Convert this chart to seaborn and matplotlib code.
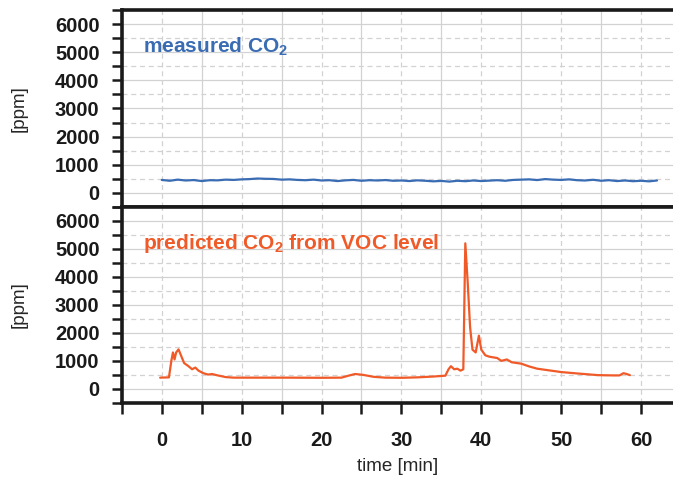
import numpy as np
import pandas as pd
import seaborn as sns
import matplotlib.pyplot as plt
from matplotlib.ticker import MultipleLocator, FuncFormatter

# measured CO2 (top panel)
m_time = list(range(0, 63))
m_ppm = [460, 430, 470, 440, 455, 420, 450, 445, 470, 460,
         480, 490, 510, 500, 495, 470, 480, 460, 450, 470,
         440, 450, 420, 445, 460, 430, 450, 440, 455, 430,
         440, 420, 445, 430, 410, 425, 400, 430, 415, 440,
         420, 435, 450, 430, 460, 470, 480, 455, 490, 470,
         460, 480, 450, 440, 465, 430, 450, 420, 440, 415,
         430, 410, 440]

# predicted CO2 from VOC level (bottom panel)
p_time = [-0.2, 0.9, 1.2, 1.4, 1.6, 1.8, 2.1, 2.4, 2.8, 3.3, 3.8, 4.2, 4.6,
          5.2, 5.8, 6.3, 7.0, 8.0, 9.0, 12, 16, 20, 22.5, 23.5, 24.2, 25.2,
          26.5, 28, 30, 32, 34, 35.5, 35.9, 36.2, 36.6, 37.0, 37.4, 37.75,
          38.0, 38.3, 38.6, 38.9, 39.3, 39.7, 40.0, 40.5, 41, 42, 42.5, 43.2,
          43.8, 45, 46, 47, 48, 50, 52, 54.6, 56.5, 57.3, 57.8, 58.2, 58.6]
p_ppm = [400, 410, 1000, 1300, 1050, 1300, 1410, 1200, 920, 820, 700, 760,
         650, 560, 510, 530, 480, 420, 400, 400, 400, 395, 400, 480, 530, 500,
         430, 400, 395, 410, 440, 470, 700, 810, 700, 720, 650, 700,
         5200, 3800, 2200, 1400, 1300, 1900, 1400, 1200, 1150, 1100, 1000, 1050,
         950, 900, 800, 720, 680, 600, 550, 490, 480, 480, 560, 530, 490]

blue = "#3a6cb4"
orange = "#f05a28"

sns.set_style("white")
plt.rcParams["font.family"] = ["Liberation Sans", "DejaVu Sans"]
plt.rcParams["mathtext.fontset"] = "custom"
plt.rcParams["mathtext.rm"] = "Liberation Sans:bold"

df_m = pd.DataFrame({"time": m_time, "ppm": m_ppm})
df_p = pd.DataFrame({"time": p_time, "ppm": p_ppm})

fig = plt.figure(figsize=(6.73, 4.79), dpi=100)
ax1 = fig.add_axes([0.181, 0.568, 0.819, 0.411])
ax2 = fig.add_axes([0.181, 0.159, 0.819, 0.409])

sns.lineplot(data=df_m, x="time", y="ppm", ax=ax1, color=blue, linewidth=1.6)
sns.lineplot(data=df_p, x="time", y="ppm", ax=ax2, color=orange, linewidth=1.6)


def style(ax, bottom_labels):
    ax.set_xlim(-5, 64)
    ax.set_ylim(-500, 6500)
    ax.xaxis.set_major_locator(MultipleLocator(10))
    ax.xaxis.set_minor_locator(MultipleLocator(5))
    ax.yaxis.set_major_locator(MultipleLocator(1000))
    ax.yaxis.set_minor_locator(MultipleLocator(500))
    ax.grid(True, which="major", axis="y", color="#d2d2d2", linewidth=0.9, linestyle="-")
    ax.grid(True, which="minor", axis="y", color="#d2d2d2", linewidth=0.9, linestyle=(0, (4, 3)))
    ax.grid(True, which="major", axis="x", color="#d2d2d2", linewidth=0.9, linestyle=(0, (4, 3)))
    ax.grid(True, which="minor", axis="x", color="#d2d2d2", linewidth=0.9, linestyle="-")
    ax.set_axisbelow(True)
    for side in ["left", "top", "bottom"]:
        ax.spines[side].set_visible(True)
        ax.spines[side].set_linewidth(2.6)
        ax.spines[side].set_color("#1a1a1a")
    ax.spines["right"].set_visible(False)
    ax.tick_params(axis="y", which="both", direction="out", length=7, width=1.8,
                   color="#1a1a1a", left=True, labelsize=14.5, pad=9)
    ax.yaxis.set_major_formatter(FuncFormatter(lambda v, p: f"{int(v)}"))
    ax.set_ylabel("[ppm]", fontsize=13.5, labelpad=20)
    if bottom_labels:
        ax.tick_params(axis="x", which="both", direction="out", length=8, width=1.8,
                       color="#1a1a1a", bottom=True, labelsize=14.5, pad=12)
        ax.set_xlabel("time [min]", fontsize=13.5, labelpad=6)
    else:
        ax.tick_params(axis="x", which="both", bottom=False, labelbottom=False)
        ax.set_xlabel("")


style(ax1, False)
style(ax2, True)
for lab in ax1.get_yticklabels() + ax2.get_yticklabels() + ax2.get_xticklabels():
    lab.set_fontweight("bold")
    lab.set_color("#1a1a1a")

ax1.text(-2.3, 5000, r"measured CO$_{2}$", color=blue, fontsize=15, fontweight="bold")
ax2.text(-2.3, 5000, r"predicted CO$_{2}$ from VOC level", color=orange, fontsize=15,
         fontweight="bold")

fig.savefig("out.png", dpi=100)
